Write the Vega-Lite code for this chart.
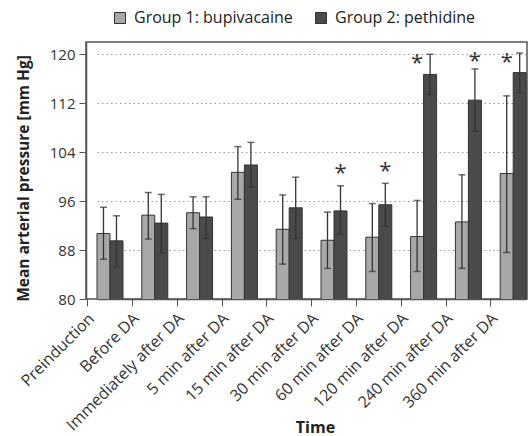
{
  "$schema": "https://vega.github.io/schema/vega-lite/v6.json",
  "width": 441,
  "height": 257,
  "autosize": "none",
  "padding": {"left": 86, "top": 42, "right": 4, "bottom": 137},
  "background": "white",
  "config": {
    "font": "Open Sans",
    "view": {"stroke": "#555", "strokeWidth": 1.5},
    "axis": {"labelColor": "#333", "titleColor": "#222", "domainColor": "#555", "tickColor": "#555", "labelFont": "Open Sans", "titleFont": "Open Sans", "titleFontWeight": "bold"}
  },
  "datasets": {
    "bars": [
      {"time": "Preinduction", "group": "Group 1: bupivacaine", "mean": 90.7, "low": 86.5, "high": 95.0},
      {"time": "Preinduction", "group": "Group 2: pethidine", "mean": 89.5, "low": 85.2, "high": 93.6},
      {"time": "Before DA", "group": "Group 1: bupivacaine", "mean": 93.7, "low": 89.8, "high": 97.4},
      {"time": "Before DA", "group": "Group 2: pethidine", "mean": 92.4, "low": 87.5, "high": 97.1},
      {"time": "Immediately after DA", "group": "Group 1: bupivacaine", "mean": 94.1, "low": 91.5, "high": 96.7},
      {"time": "Immediately after DA", "group": "Group 2: pethidine", "mean": 93.4, "low": 89.9, "high": 96.7},
      {"time": "5 min after DA", "group": "Group 1: bupivacaine", "mean": 100.7, "low": 96.3, "high": 104.9},
      {"time": "5 min after DA", "group": "Group 2: pethidine", "mean": 101.9, "low": 98.3, "high": 105.6},
      {"time": "15 min after DA", "group": "Group 1: bupivacaine", "mean": 91.4, "low": 85.7, "high": 97.0},
      {"time": "15 min after DA", "group": "Group 2: pethidine", "mean": 94.9, "low": 89.9, "high": 99.9},
      {"time": "30 min after DA", "group": "Group 1: bupivacaine", "mean": 89.6, "low": 85.0, "high": 94.2},
      {"time": "30 min after DA", "group": "Group 2: pethidine", "mean": 94.4, "low": 90.6, "high": 98.5},
      {"time": "60 min after DA", "group": "Group 1: bupivacaine", "mean": 90.1, "low": 84.5, "high": 95.6},
      {"time": "60 min after DA", "group": "Group 2: pethidine", "mean": 95.4, "low": 91.9, "high": 98.9},
      {"time": "120 min after DA", "group": "Group 1: bupivacaine", "mean": 90.2, "low": 84.5, "high": 96.1},
      {"time": "120 min after DA", "group": "Group 2: pethidine", "mean": 116.7, "low": 113.4, "high": 120.0},
      {"time": "240 min after DA", "group": "Group 1: bupivacaine", "mean": 92.6, "low": 85.0, "high": 100.3},
      {"time": "240 min after DA", "group": "Group 2: pethidine", "mean": 112.5, "low": 107.4, "high": 117.6},
      {"time": "360 min after DA", "group": "Group 1: bupivacaine", "mean": 100.5, "low": 87.6, "high": 113.2},
      {"time": "360 min after DA", "group": "Group 2: pethidine", "mean": 117.0, "low": 113.7, "high": 120.2}
    ],
    "stars": [
      {"time": "30 min after DA", "group": "Group 2: pethidine", "y": 101.4},
      {"time": "60 min after DA", "group": "Group 2: pethidine", "y": 101.7},
      {"time": "120 min after DA", "group": "Group 1: bupivacaine", "y": 119.4},
      {"time": "240 min after DA", "group": "Group 2: pethidine", "y": 119.7},
      {"time": "360 min after DA", "group": "Group 1: bupivacaine", "y": 119.6}
    ]
  },
  "encoding": {
    "x": {
      "field": "time", "type": "nominal", "sort": null, "title": "Time",
      "scale": {"range": [11, 440.2], "paddingInner": 0.42, "paddingOuter": 0},
      "axis": {"labelAngle": -45, "labelFontSize": 16, "titleFontSize": 16, "bandPosition": -0.36, "labelOffset": -24, "tickSize": 7, "labelPadding": 4, "titleY": 128, "titleX": 229, "titleBaseline": "middle", "domainWidth": 1.5}
    },
    "xOffset": {"field": "group", "type": "nominal", "sort": ["Group 1: bupivacaine", "Group 2: pethidine"]}
  },
  "layer": [
    {
      "data": {"name": "bars"},
      "mark": {"type": "bar", "stroke": "#333", "strokeWidth": 1, "clip": true},
      "encoding": {
        "y": {"field": "mean", "type": "quantitative", "title": "Mean arterial pressure [mm Hg]",
          "scale": {"domain": [80, 122], "nice": false, "zero": false},
          "axis": {"values": [80, 88, 96, 104, 112, 120], "labelFontSize": 15, "titleFontSize": 15.5, "grid": true, "gridDash": [1.5, 3], "gridColor": "#999", "gridWidth": 1, "tickSize": 7, "labelPadding": 4, "titlePadding": 18, "titleY": 136, "domainWidth": 1.5}},
        "color": {"field": "group", "type": "nominal", "title": null,
          "scale": {"domain": ["Group 1: bupivacaine", "Group 2: pethidine"], "range": ["#a8a8a8", "#4a4a4a"]},
          "legend": {"orient": "none", "legendX": 26, "legendY": -32, "direction": "horizontal", "symbolType": "square", "symbolSize": 121, "symbolStrokeColor": "#333", "symbolStrokeWidth": 1, "labelFontSize": 16, "labelColor": "#222", "labelOffset": 6, "columnPadding": 20, "labelFont": "Open Sans"}}
      }
    },
    {
      "data": {"name": "bars"},
      "mark": {"type": "rule", "color": "#333", "strokeWidth": 1.3},
      "encoding": {"y": {"field": "low", "type": "quantitative"}, "y2": {"field": "high"}}
    },
    {
      "data": {"name": "bars"},
      "mark": {"type": "tick", "color": "#333", "size": 7, "thickness": 1.5},
      "encoding": {"y": {"field": "low", "type": "quantitative"}}
    },
    {
      "data": {"name": "bars"},
      "mark": {"type": "tick", "color": "#333", "size": 7, "thickness": 1.5},
      "encoding": {"y": {"field": "high", "type": "quantitative"}}
    },
    {
      "data": {"name": "stars"},
      "mark": {"type": "text", "text": "*", "fontSize": 22, "color": "#333", "baseline": "middle", "dy": 5},
      "encoding": {"y": {"field": "y", "type": "quantitative"}}
    }
  ]
}
